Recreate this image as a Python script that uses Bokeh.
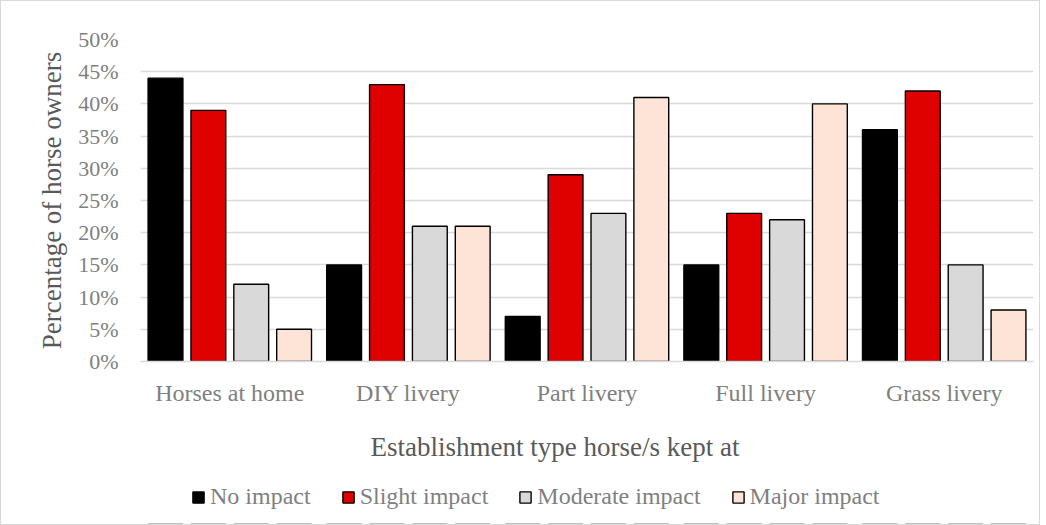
from bokeh.plotting import figure
from bokeh.layouts import column
from bokeh.models import ColumnDataSource, FactorRange, NumeralTickFormatter, Legend, LegendItem, Title
from bokeh.transform import dodge
from bokeh.embed import file_html
from bokeh.resources import INLINE

categories = ["Horses at home", "DIY livery", "Part livery", "Full livery", "Grass livery"]
series_names = ["No impact", "Slight impact", "Moderate impact", "Major impact"]
no_impact = [44, 15, 7, 15, 36]
slight_impact = [39, 43, 29, 23, 42]
moderate_impact = [12, 21, 23, 22, 15]
major_impact = [5, 21, 41, 40, 8]
y_ticks = [0, 5, 10, 15, 20, 25, 30, 35, 40, 45, 50]
x_title = "Establishment type horse/s kept at"
y_title = "Percentage of horse owners"

colors = ["#000000", "#DF0000", "#D9D9D9", "#FDE4D6"]
series = [no_impact, slight_impact, moderate_impact, major_impact]
offsets = [-0.36, -0.12, 0.12, 0.36]

data = {"cat": categories}
for i, s in enumerate(series):
    data[f"s{i}"] = [v / 100 for v in s]
source = ColumnDataSource(data)

FONT = "Liberation Serif"

p = figure(x_range=FactorRange(*categories, range_padding=0), y_range=(0, 0.5),
           width=1038, height=481, output_backend="svg", toolbar_location=None,
           min_border_left=139, min_border_top=38, min_border_right=6, min_border_bottom=121)

for i in range(4):
    p.vbar(x=dodge("cat", offsets[i], range=p.x_range), top=f"s{i}", width=0.195,
           source=source, fill_color=colors[i], line_color="#000000", line_width=1.4)

p.yaxis.ticker = [t / 100 for t in y_ticks]
p.yaxis.formatter = NumeralTickFormatter(format="0%")
p.yaxis.axis_line_color = None
p.yaxis.major_tick_line_color = None
p.yaxis.minor_tick_line_color = None
p.yaxis.major_label_text_font = FONT
p.yaxis.major_label_text_font_size = "22px"
p.yaxis.major_label_text_color = "#7F7F7F"
p.yaxis.major_label_standoff = 16
p.yaxis.axis_label = y_title
p.yaxis.axis_label_text_font = FONT
p.yaxis.axis_label_text_font_size = "27px"
p.yaxis.axis_label_text_font_style = "normal"
p.yaxis.axis_label_text_color = "#595959"
p.yaxis.axis_label_standoff = 8

p.xaxis.axis_line_color = "#D9D9D9"
p.xaxis.axis_line_width = 1.5
p.xaxis.major_tick_line_color = None
p.xaxis.minor_tick_line_color = None
p.xaxis.major_label_text_font = FONT
p.xaxis.major_label_text_font_size = "24px"
p.xaxis.major_label_text_color = "#7F7F7F"
p.xaxis.major_label_standoff = 12

p.xgrid.grid_line_color = None
p.ygrid.grid_line_color = "#D9D9D9"
p.ygrid.grid_line_width = 1.5
p.outline_line_color = None

t = Title(text=x_title, align="left", offset=230, standoff=42, text_font=FONT,
          text_font_size="27px", text_font_style="normal", text_color="#595959")
p.add_layout(t, "below")

# legend strip (same bars, drawn far out of view so only the legend shows)
lp = figure(width=1038, height=42, output_backend="svg", toolbar_location=None,
            x_range=FactorRange(*categories, range_padding=0), y_range=(100, 101),
            min_border=0, min_border_left=0, min_border_right=0,
            min_border_top=0, min_border_bottom=0)
lp.axis.visible = False
lp.grid.visible = False
lp.outline_line_color = None
items = []
for i in range(4):
    r = lp.vbar(x=dodge("cat", offsets[i], range=lp.x_range), top=f"s{i}", width=0.195,
                source=source, fill_color=colors[i], line_color="#000000", line_width=1.4)
    items.append(LegendItem(label=series_names[i], renderers=[r]))
legend = Legend(items=items, orientation="horizontal", location=(51, 14),
                label_text_font=FONT, label_text_font_size="24px", label_text_color="#7F7F7F",
                glyph_width=14, glyph_height=14, label_standoff=5, spacing=30,
                border_line_color=None, background_fill_alpha=0, padding=0, margin=0)
lp.add_layout(legend, "center")

layout = column(p, lp, spacing=0)
layout.styles = {"border": "1px solid #D9D9D9"}

open("out.html", "w").write(file_html(layout, INLINE))
